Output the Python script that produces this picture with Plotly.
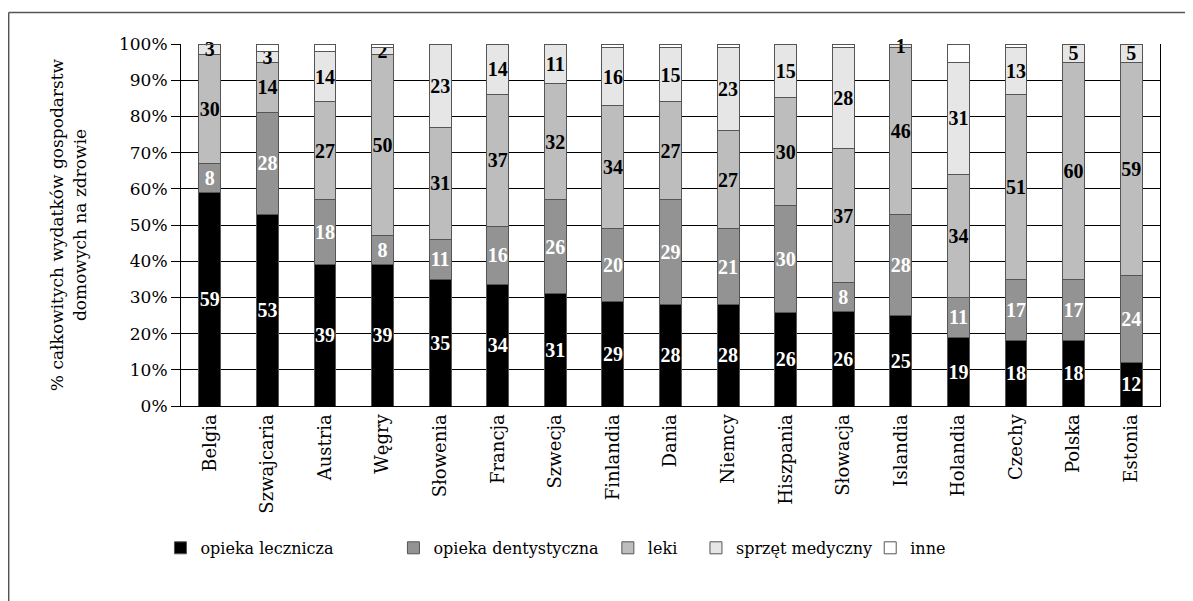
import plotly.graph_objects as go

countries = ["Belgia", "Szwajcaria", "Austria", "Węgry", "Słowenia", "Francja", "Szwecja",
             "Finlandia", "Dania", "Niemcy", "Hiszpania", "Słowacja", "Islandia", "Holandia",
             "Czechy", "Polska", "Estonia"]
opieka_lecznicza = [59, 53, 39, 39, 35, 34, 31, 29, 28, 28, 26, 26, 25, 19, 18, 18, 12]
opieka_dentystyczna = [8, 28, 18, 8, 11, 16, 26, 20, 29, 21, 30, 8, 28, 11, 17, 17, 24]
leki = [30, 14, 27, 50, 31, 37, 32, 34, 27, 27, 30, 37, 46, 34, 51, 60, 59]
sprzet_medyczny = [3, 3, 14, 2, 23, 14, 11, 16, 15, 23, 15, 28, 1, 31, 13, 5, 5]
inne = [0, 2, 2, 1, 0, 0, 0, 1, 1, 1, 0, 1, 0, 5, 1, 0, 0]

series = [
    ("opieka lecznicza", opieka_lecznicza, "#000000", "white", True),
    ("opieka dentystyczna", opieka_dentystyczna, "#939393", "white", True),
    ("leki", leki, "#bdbdbd", "black", True),
    ("sprzęt medyczny", sprzet_medyczny, "#e6e6e6", "black", True),
    ("inne", inne, "#ffffff", "black", False),
]

TEXTFONT = "DejaVu Serif"
LABELFONT = "Liberation Serif"
legend_x = [-0.021, 0.217, 0.436, 0.526, 0.704]

fig = go.Figure()
for i, (name, vals, color, tcol, show_text) in enumerate(series):
    fig.add_trace(go.Bar(
        name=name,
        x=countries,
        y=vals,
        marker=dict(color=color, line=dict(color="#555555", width=1)),
        text=[str(v) for v in vals] if show_text else None,
        textposition="inside" if show_text else "none",
        insidetextanchor="middle",
        textangle=0,
        insidetextfont=dict(family=LABELFONT, size=20, color=tcol, weight="bold"),
        cliponaxis=False,
        legend="legend" if i == 0 else f"legend{i+1}",
        hoverinfo="skip",
    ))

layout_legends = {}
for i, lx in enumerate(legend_x):
    key = "legend" if i == 0 else f"legend{i+1}"
    layout_legends[key] = dict(
        x=lx, y=-0.392, xanchor="left", yanchor="middle",
        orientation="h", font=dict(family=TEXTFONT, size=16, color="black"),
        bgcolor="rgba(0,0,0,0)", itemwidth=30,
    )

fig.update_layout(
    barmode="stack",
    barnorm="percent",
    bargap=0.62,
    width=1193, height=601,
    margin=dict(l=173, r=41, t=36, b=203),
    paper_bgcolor="white",
    plot_bgcolor="white",
    font=dict(family=TEXTFONT, size=17, color="black"),
    uniformtext=dict(minsize=20, mode="show"),
    showlegend=True,
    **layout_legends,
)
fig.update_yaxes(
    range=[0, 100], dtick=10, ticksuffix="%",
    showgrid=True, gridcolor="black", gridwidth=1,
    showline=True, linecolor="black", linewidth=1, mirror=True,
    ticks="outside", ticklen=9, tickcolor="black",
    tickfont=dict(family=TEXTFONT, size=17, color="black"),
    title=dict(text="% całkowitych wydatków gospodarstw<br>domowych na zdrowie",
               font=dict(family=TEXTFONT, size=17, color="black"), standoff=28),
    zeroline=False,
)
fig.update_xaxes(
    showline=True, linecolor="black", linewidth=1,
    tickangle=-90, ticks="",
    tickfont=dict(family=TEXTFONT, size=18, color="black"),
)
# outer frame (top and left edges visible in reference)
fig.add_shape(type="line", xref="paper", yref="paper", x0=-0.176, x1=1.06, y0=1.087, y1=1.087,
              line=dict(color="#555555", width=1.5))
fig.add_shape(type="line", xref="paper", yref="paper", x0=-0.176, x1=-0.176, y0=1.087, y1=-0.62,
              line=dict(color="#555555", width=1.5))

fig.write_html("out.html")
